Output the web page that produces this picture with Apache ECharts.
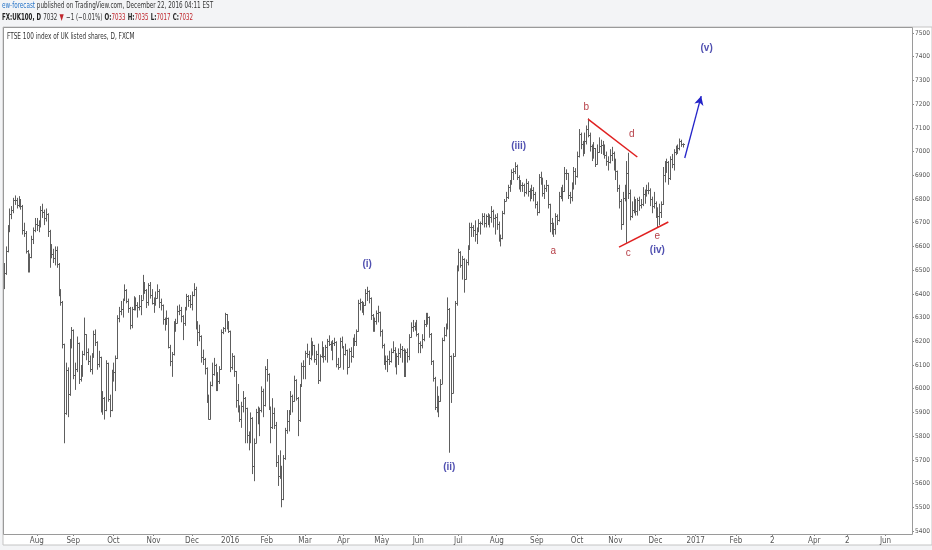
<!DOCTYPE html>
<html>
<head>
<meta charset="utf-8">
<script src="https://cdn.jsdelivr.net/npm/echarts@6/dist/echarts.min.js"></script>
<style>html,body{margin:0;height:100%;background:#f3f4f6}</style>
</head>
<body>
<div id="main" style="width:932px;height:550px"></div>
<script>
// trading days: weekdays from start to end, minus these closed days
const startDate = '2015-07-08';
const endDate = '2017-06-21';
const holidays = ['2015-08-31', '2015-12-25', '2015-12-28', '2016-01-01', '2016-03-25', '2016-03-28',
  '2016-05-02', '2016-05-30', '2016-08-29', '2017-04-14', '2017-04-17', '2017-05-01', '2017-05-29'];

// labels shown under the first bar of each month, from Aug 2015
const monthLabels = ['Aug', 'Sep', 'Oct', 'Nov', 'Dec', '2016', 'Feb', 'Mar', 'Apr', 'May', 'Jun', 'Jul',
  'Aug', 'Sep', 'Oct', 'Nov', 'Dec', '2017', 'Feb', '2', 'Apr', '2', 'Jun'];

const priceTicks = [5400, 5500, 5600, 5700, 5800, 5900, 6000, 6100, 6200, 6300, 6400,
  6500, 6600, 6700, 6800, 6900, 7000, 7100, 7200, 7300, 7400, 7500];

// daily bars [open, high, low, close], one per trading day from startDate
const bars = [
  // Jul 2015
  [6432,6530,6420,6490],[6490,6600,6480,6581],[6581,6690,6575,6673],[6673,6760,6660,6737],[6737,6770,6715,6753],
  [6753,6805,6740,6797],[6797,6815,6775,6796],[6796,6805,6760,6775],[6775,6812,6765,6789],[6789,6800,6755,6770],
  [6770,6775,6650,6668],[6668,6700,6640,6656],[6656,6665,6570,6579],[6579,6585,6490,6505],[6505,6570,6490,6555],
  [6555,6645,6550,6632],[6632,6680,6610,6668],[6668,6720,6660,6696],
  // Aug 2015
  [6696,6720,6665,6689],[6689,6710,6660,6686],[6686,6770,6680,6752],[6752,6780,6720,6747],[6747,6755,6690,6718],
  [6718,6760,6705,6736],[6736,6740,6640,6665],[6665,6670,6510,6571],[6571,6610,6550,6568],[6568,6590,6530,6550],
  [6550,6600,6520,6585],[6585,6600,6510,6526],[6526,6530,6390,6403],[6403,6420,6350,6367],[6367,6370,6170,6188],
  [6188,6190,5770,5898],[5898,6110,5890,6081],[6081,6090,5880,5979],[5979,6210,5970,6192],[6192,6260,6170,6247],
  // Sep 2015
  [6247,6250,6040,6058],[6058,6110,5995,6083],[6083,6220,6070,6194],[6194,6195,6020,6042],[6042,6100,6030,6074],
  [6074,6160,6050,6146],[6146,6300,6140,6229],[6229,6230,6120,6155],[6155,6170,6100,6117],[6117,6140,6070,6085],
  [6085,6150,6060,6137],[6137,6245,6130,6229],[6229,6250,6180,6197],[6197,6200,6080,6104],[6104,6160,6090,6133],
  [6133,6135,5900,5909],[5909,5990,5890,5960],[5960,5965,5870,5910],[5910,6120,5905,6109],[6109,6110,5945,5958],
  [5958,5975,5880,5909],[5909,6080,5905,6062],
  // Oct 2015
  [6062,6110,6030,6072],[6072,6140,5990,6130],[6130,6310,6125,6298],[6298,6345,6280,6326],[6326,6370,6310,6336],
  [6336,6380,6300,6374],[6374,6440,6370,6416],[6416,6420,6360,6371],[6371,6380,6320,6342],[6342,6345,6250,6269],
  [6269,6345,6255,6338],[6338,6390,6330,6378],[6378,6385,6330,6353],[6353,6365,6300,6344],[6344,6395,6330,6348],
  [6348,6395,6310,6376],[6376,6480,6375,6444],[6444,6450,6400,6417],[6417,6420,6340,6365],[6365,6445,6350,6437],
  [6437,6450,6380,6395],[6395,6420,6355,6361],
  // Nov 2015
  [6361,6385,6320,6361],[6361,6410,6350,6383],[6383,6440,6380,6412],[6412,6420,6340,6364],[6364,6380,6330,6353],
  [6353,6355,6270,6295],[6295,6300,6245,6275],[6275,6330,6270,6297],[6297,6300,6170,6178],[6178,6185,6095,6118],
  [6118,6155,6050,6146],[6146,6285,6140,6268],[6268,6295,6240,6278],[6278,6350,6275,6329],[6329,6355,6310,6334],
  [6334,6345,6280,6305],[6305,6310,6205,6277],[6277,6345,6265,6338],[6338,6400,6330,6393],[6393,6395,6345,6375],
  [6375,6395,6340,6356],
  // Dec 2015
  [6356,6410,6330,6395],[6395,6445,6390,6420],[6420,6430,6250,6275],[6275,6285,6180,6238],[6238,6270,6200,6223],
  [6223,6225,6110,6135],[6135,6165,6100,6126],[6126,6130,6060,6088],[6088,6090,5940,5952],[5952,5975,5870,5874],
  [5874,6030,5870,6017],[6017,6110,6010,6061],[6061,6130,6055,6102],[6102,6105,5990,6052],[6052,6070,5990,6034],
  [6034,6095,6020,6083],[6083,6250,6080,6240],[6240,6260,6230,6254],[6254,6320,6240,6314],[6314,6315,6250,6274],
  [6274,6285,6235,6242],
  // Jan 2016
  [6242,6245,6070,6093],[6093,6150,6080,6137],[6137,6140,6050,6073],[6073,6075,5920,5954],[5954,6020,5900,5912],
  [5912,5930,5860,5871],[5871,5945,5835,5929],[5929,5990,5900,5961],[5961,5965,5770,5918],[5918,5920,5770,5804],
  [5804,5820,5740,5779],[5779,5900,5770,5876],[5876,5880,5640,5673],[5673,5790,5610,5773],[5773,5915,5770,5900],
  [5900,5925,5850,5877],[5877,5920,5800,5911],[5911,6010,5900,5990],[5990,6000,5880,5931],[5931,6095,5925,6083],
  // Feb 2016
  [6083,6125,6030,6060],[6060,6065,5910,5922],[5922,5925,5770,5837],[5837,5960,5830,5898],[5898,5920,5830,5848],
  [5848,5860,5670,5689],[5689,5720,5590,5632],[5632,5740,5620,5672],[5672,5675,5500,5537],[5537,5720,5530,5707],
  [5707,5835,5700,5824],[5824,5910,5810,5862],[5862,5910,5820,5893],[5893,5990,5890,5971],[5971,5975,5900,5950],
  [5950,6055,5945,6037],[6037,6040,5950,5962],[5962,5965,5800,5867],[5867,6020,5860,6012],[6012,6110,6010,6096],
  [6096,6120,6040,6097],
  // Mar 2016
  [6097,6160,6040,6152],[6152,6190,6130,6147],[6147,6160,6100,6130],[6130,6215,6120,6199],[6199,6200,6140,6183],
  [6183,6185,6110,6125],[6125,6160,6100,6146],[6146,6190,6020,6036],[6036,6145,6030,6139],[6139,6200,6130,6174],
  [6174,6175,6110,6139],[6139,6185,6120,6175],[6175,6210,6110,6201],[6201,6225,6180,6189],[6189,6200,6160,6184],
  [6184,6205,6120,6192],[6192,6215,6180,6199],[6199,6200,6090,6106],[6106,6130,6080,6091],[6091,6215,6090,6203],
  [6203,6220,6170,6175],
  // Apr 2016
  [6175,6180,6080,6146],[6146,6190,6140,6164],[6164,6165,6060,6092],[6092,6170,6090,6161],[6161,6175,6110,6137],
  [6137,6215,6130,6204],[6204,6230,6180,6200],[6200,6250,6180,6242],[6242,6375,6240,6362],[6362,6380,6330,6365],
  [6365,6370,6320,6344],[6344,6365,6310,6353],[6353,6420,6350,6405],[6405,6430,6370,6410],[6410,6415,6360,6381],
  [6381,6385,6290,6310],[6310,6315,6240,6260],[6260,6300,6240,6284],[6284,6330,6270,6319],[6319,6350,6280,6322],
  [6322,6325,6220,6242],
  // May 2016
  [6242,6250,6170,6185],[6185,6190,6100,6112],[6112,6140,6080,6117],[6117,6140,6070,6125],[6125,6160,6100,6115],
  [6115,6170,6110,6156],[6156,6200,6150,6162],[6162,6175,6090,6105],[6105,6150,6060,6138],[6138,6170,6100,6151],
  [6151,6190,6130,6167],[6167,6180,6110,6165],[6165,6170,6050,6053],[6053,6165,6050,6156],[6156,6170,6110,6136],
  [6136,6230,6120,6219],[6219,6280,6215,6262],[6262,6290,6240,6265],[6265,6280,6245,6270],[6270,6290,6220,6231],
  // Jun 2016
  [6231,6235,6150,6191],[6191,6200,6150,6185],[6185,6230,6170,6209],[6209,6290,6200,6273],[6273,6320,6260,6285],
  [6285,6320,6270,6301],[6301,6305,6215,6232],[6232,6235,6100,6116],[6116,6120,6030,6044],[6044,6050,5910,5923],
  [5923,6010,5900,5966],[5966,5970,5880,5950],[5950,6040,5945,6021],[6021,6215,6020,6204],[6204,6260,6200,6227],
  [6227,6275,6220,6261],[6261,6385,6250,6338],[6338,6340,5730,6138],[6138,6140,5940,5982],[5982,6150,5980,6140],
  [6140,6370,6135,6360],[6360,6520,6350,6504],
  // Jul 2016
  [6504,6590,6495,6577],[6577,6580,6510,6522],[6522,6560,6460,6545],[6545,6550,6405,6463],[6463,6545,6460,6533],
  [6533,6605,6520,6590],[6590,6700,6585,6682],[6682,6700,6640,6680],[6680,6690,6640,6670],[6670,6710,6620,6654],
  [6654,6680,6610,6669],[6669,6715,6660,6697],[6697,6705,6650,6697],[6697,6740,6690,6728],[6728,6740,6680,6699],
  [6699,6735,6680,6730],[6730,6740,6690,6710],[6710,6735,6680,6724],[6724,6770,6700,6750],[6750,6755,6680,6721],
  [6721,6735,6650,6724],
  // Aug 2016
  [6724,6740,6670,6694],[6694,6705,6620,6645],[6645,6650,6600,6634],[6634,6750,6630,6740],[6740,6800,6735,6793],
  [6793,6830,6790,6809],[6809,6860,6800,6851],[6851,6880,6830,6866],[6866,6925,6860,6914],[6914,6930,6880,6916],
  [6916,6955,6905,6941],[6941,6945,6880,6893],[6893,6900,6840,6868],[6868,6880,6830,6859],[6859,6870,6830,6859],
  [6859,6865,6810,6828],[6828,6885,6820,6868],[6868,6875,6810,6835],[6835,6845,6790,6816],[6816,6860,6800,6838],
  [6838,6850,6790,6820],[6820,6830,6760,6781],
  // Sep 2016
  [6781,6790,6730,6745],[6745,6905,6740,6894],[6894,6915,6860,6879],[6879,6890,6810,6826],[6826,6860,6800,6846],
  [6846,6880,6830,6858],[6858,6860,6760,6777],[6777,6780,6660,6700],[6700,6720,6650,6665],[6665,6700,6640,6674],
  [6674,6740,6650,6730],[6730,6735,6690,6710],[6710,6830,6705,6813],[6813,6850,6800,6831],[6831,6860,6790,6834],
  [6834,6935,6830,6911],[6911,6925,6880,6909],[6909,6910,6800,6818],[6818,6830,6780,6807],[6807,6870,6790,6849],
  [6849,6935,6840,6919],[6919,6930,6860,6899],
  // Oct 2016
  [6899,7000,6890,6983],[6983,7095,6975,7074],[7074,7080,7010,7033],[7033,7045,6980,6999],[6999,7080,6990,7044],
  [7044,7110,7030,7097],[7097,7140,7060,7070],[7070,7080,7000,7024],[7024,7030,6960,6977],[6977,7040,6970,7014],
  [7014,7015,6935,6948],[6948,7030,6945,7000],[7000,7060,6995,7022],[7022,7050,6990,7027],[7027,7045,6985,7020],
  [7020,7030,6970,6986],[6986,7000,6940,6959],[6959,6980,6920,6958],[6958,7010,6950,6986],[6986,7020,6960,6996],
  [6996,7000,6920,6954],
  // Nov 2016
  [6954,6970,6880,6917],[6917,6920,6830,6845],[6845,6860,6760,6790],[6790,6800,6670,6693],[6693,6830,6690,6806],
  [6806,6860,6790,6843],[6843,6960,6615,6911],[6911,6995,6800,6827],[6827,6840,6710,6730],[6730,6790,6720,6753],
  [6753,6810,6740,6792],[6792,6800,6730,6749],[6749,6805,6730,6795],[6795,6810,6750,6775],[6775,6800,6760,6777],
  [6777,6850,6770,6819],[6819,6840,6780,6817],[6817,6860,6810,6840],[6840,6870,6820,6840],[6840,6845,6770,6799],
  [6799,6810,6740,6772],[6772,6830,6760,6784],
  // Dec 2016
  [6784,6790,6720,6752],[6752,6765,6682,6730],[6730,6780,6690,6746],[6746,6790,6720,6779],[6779,6935,6775,6902],
  [6902,6960,6870,6931],[6931,6970,6910,6954],[6954,6960,6860,6890],[6890,6980,6880,6968],[6968,6990,6930,6949],
  [6949,7010,6920,6999],[6999,7025,6985,7011],[7011,7030,6990,7017],[7017,7055,7005,7043],[7043,7050,7020,7033],
  [7033,7035,7017,7032]
];

// elliott wave labels [date, price, text]
const waveLabels = [
  ['2016-04-20', 6526, '(i)'], ['2016-06-24', 5670, '(ii)'], ['2016-08-17', 7023, '(iii)'],
  ['2016-12-02', 6585, '(iv)'], ['2017-01-10', 7437, '(v)']
];
const triangleLabels = [
  ['2016-09-14', 6581, 'a'], ['2016-10-10', 7188, 'b'], ['2016-11-10', 6572, 'c'],
  ['2016-11-14', 7074, 'd'], ['2016-12-02', 6644, 'e']
];
const triangleUpper = [['2016-10-11', 7137], ['2016-11-17', 6977]];
const triangleLower = [['2016-11-03', 6597], ['2016-12-12', 6703]];
const targetArrow = [['2016-12-23', 6973], ['2017-01-05', 7234]];

const headerPublisher = 'ew-forecast';
const headerPublished = ' published on TradingView.com, December 22, 2016 04:11 EST';
const symbolName = 'FX:UK100, D';
const changeText = '\u22121 (\u22120.01%)';
const chartTitle = 'FTSE 100 index of UK listed shares, D, FXCM';

// build category list
const pad = n => (n < 10 ? '0' : '') + n;
const dates = [];
for (let d = new Date(startDate + 'T00:00:00Z'); d <= new Date(endDate + 'T00:00:00Z'); d.setUTCDate(d.getUTCDate() + 1)) {
  const wd = d.getUTCDay();
  const s = d.getUTCFullYear() + '-' + pad(d.getUTCMonth() + 1) + '-' + pad(d.getUTCDate());
  if (wd === 0 || wd === 6 || holidays.indexOf(s) >= 0) continue;
  dates.push(s);
}
// month starts -> label text
const monthStart = {};
let m = 0;
dates.forEach((s, i) => {
  if (i > 0 && s.slice(0, 7) !== dates[i - 1].slice(0, 7)) monthStart[i] = monthLabels[m++];
});

const barData = bars.map((b, i) => [i, b[0], b[1], b[2], b[3]]);
const last = bars[bars.length - 1];

const FONT = "'Liberation Sans Narrow', 'DejaVu Sans Condensed', 'Liberation Sans', sans-serif";
const BAR_COLOR = '#5e5e5e';
const BLUE = '#26269e';
const RED = '#a30d16';

const chart = echarts.init(document.getElementById('main'), null, { renderer: 'canvas' });

function renderBar(params, api) {
  const x = Math.round(api.coord([api.value(0), 0])[0]) + 0.5;
  const yo = Math.round(api.coord([0, api.value(1)])[1]) + 0.5;
  const yh = api.coord([0, api.value(2)])[1];
  const yl = api.coord([0, api.value(3)])[1];
  const yc = Math.round(api.coord([0, api.value(4)])[1]) + 0.5;
  const st = { stroke: BAR_COLOR, lineWidth: 1 };
  return {
    type: 'group',
    children: [
      { type: 'line', shape: { x1: x, y1: yh, x2: x, y2: yl }, style: st },
      { type: 'line', shape: { x1: x - 1.5, y1: yo, x2: x, y2: yo }, style: st },
      { type: 'line', shape: { x1: x, y1: yc, x2: x + 1.5, y2: yc }, style: st }
    ]
  };
}

const option = {
  animation: false,
  backgroundColor: '#f3f4f6',
  grid: { left: 3, right: 20, top: 33, bottom: 19, outerBoundsMode: 'none', containLabel: false },
  xAxis: {
    type: 'category',
    data: dates,
    boundaryGap: true,
    offset: 3,
    axisLine: { show: false },
    axisTick: {
      show: true, alignWithLabel: true, length: 2,
      interval: i => monthStart[i] !== undefined,
      lineStyle: { color: '#888' }
    },
    axisLabel: {
      interval: i => monthStart[i] !== undefined,
      formatter: (v, i) => monthStart[i] || '',
      color: '#555', fontSize: 8, fontFamily: FONT, margin: 3
    },
    splitLine: { show: false }
  },
  yAxis: {
    type: 'value',
    position: 'right',
    min: 5400,
    max: 7500,
    interval: 100,
    axisLine: { show: false },
    axisTick: { show: true, length: 2, lineStyle: { color: '#888' } },
    axisLabel: {
      color: '#555', fontSize: 6.5, fontFamily: FONT, margin: 3,
      showMinLabel: true, showMaxLabel: true,
      formatter: v => (priceTicks.indexOf(v) >= 0 ? String(v) : '')
    },
    splitLine: { show: false }
  },
  graphic: [
    { type: 'rect', shape: { x: 3, y: 27, width: 929, height: 518 }, style: { fill: '#fff', stroke: '#c4c4c4' }, z: -10 },
    { type: 'rect', shape: { x: 3.5, y: 27.5, width: 909, height: 507 }, style: { fill: 'none', stroke: '#9a9a9a', lineWidth: 1 }, z: 100 },
    {
      type: 'text', x: 2, y: 1, scaleX: 0.7,
      style: {
        x: 0, y: 0,
        text: '{p|' + headerPublisher + '}{t|' + headerPublished + '}',
        rich: {
          p: { fill: '#2a76c9', fontSize: 9, fontFamily: FONT },
          t: { fill: '#333', fontSize: 9, fontFamily: FONT }
        }
      }
    },
    {
      type: 'text', x: 2, y: 12, scaleX: 0.68,
      style: {
        x: 0, y: 0,
        text: '{b|' + symbolName + '} {n|' + last[3] + '} {r|\u25BC} {n|' + changeText + '} {b|O:}{r|' + last[0] +
          '} {b|H:}{r|' + last[1] + '} {b|L:}{r|' + last[2] + '} {b|C:}{r|' + last[3] + '}',
        rich: {
          b: { fill: '#222', fontSize: 9, fontWeight: 'bold', fontFamily: FONT },
          n: { fill: '#333', fontSize: 9, fontFamily: FONT },
          r: { fill: '#c0272d', fontSize: 9, fontFamily: FONT }
        }
      }
    },
    {
      type: 'text', x: 7, y: 33, scaleX: 0.8,
      style: { x: 0, y: 0, text: chartTitle, fill: '#333', fontSize: 8, fontFamily: FONT }
    }
  ],
  series: [
    {
      name: 'UK100',
      type: 'custom',
      renderItem: renderBar,
      data: barData,
      encode: { x: 0, y: [1, 2, 3, 4] },
      clip: true,
      markLine: {
        silent: true,
        symbol: 'none',
        lineStyle: { opacity: 0 },
        label: {
          position: 'end', distance: 1,
          formatter: String(last[3]),
          backgroundColor: '#000', color: '#fff',
          fontSize: 6.5, fontFamily: FONT, padding: [1, 2, 0, 2]
        },
        data: [{ yAxis: last[3] }]
      }
    },
    {
      name: 'wave',
      type: 'scatter',
      symbolSize: 0,
      data: waveLabels,
      label: {
        show: true, position: 'inside',
        formatter: p => p.value[2],
        color: BLUE, fontSize: 10, fontWeight: 'bold', fontFamily: "'Liberation Sans', sans-serif"
      },
      markLine: {
        silent: true,
        symbol: ['none', 'arrow'],
        symbolSize: [7, 9],
        lineStyle: { color: '#2323c8', width: 1.3, type: 'solid' },
        label: { show: false },
        data: [[{ coord: targetArrow[0] }, { coord: targetArrow[1] }]]
      }
    },
    {
      name: 'triangle',
      type: 'scatter',
      symbolSize: 0,
      data: triangleLabels,
      label: {
        show: true, position: 'inside',
        formatter: p => p.value[2],
        color: RED, fontSize: 10, fontFamily: "'Liberation Sans', sans-serif"
      },
      markLine: {
        silent: true,
        symbol: 'none',
        lineStyle: { color: '#e02020', width: 1.5, type: 'solid' },
        label: { show: false },
        data: [
          [{ coord: triangleUpper[0] }, { coord: triangleUpper[1] }],
          [{ coord: triangleLower[0] }, { coord: triangleLower[1] }]
        ]
      }
    }
  ]
};

chart.setOption(option);
window.addEventListener('resize', chart.resize);
</script>
</body>
</html>
